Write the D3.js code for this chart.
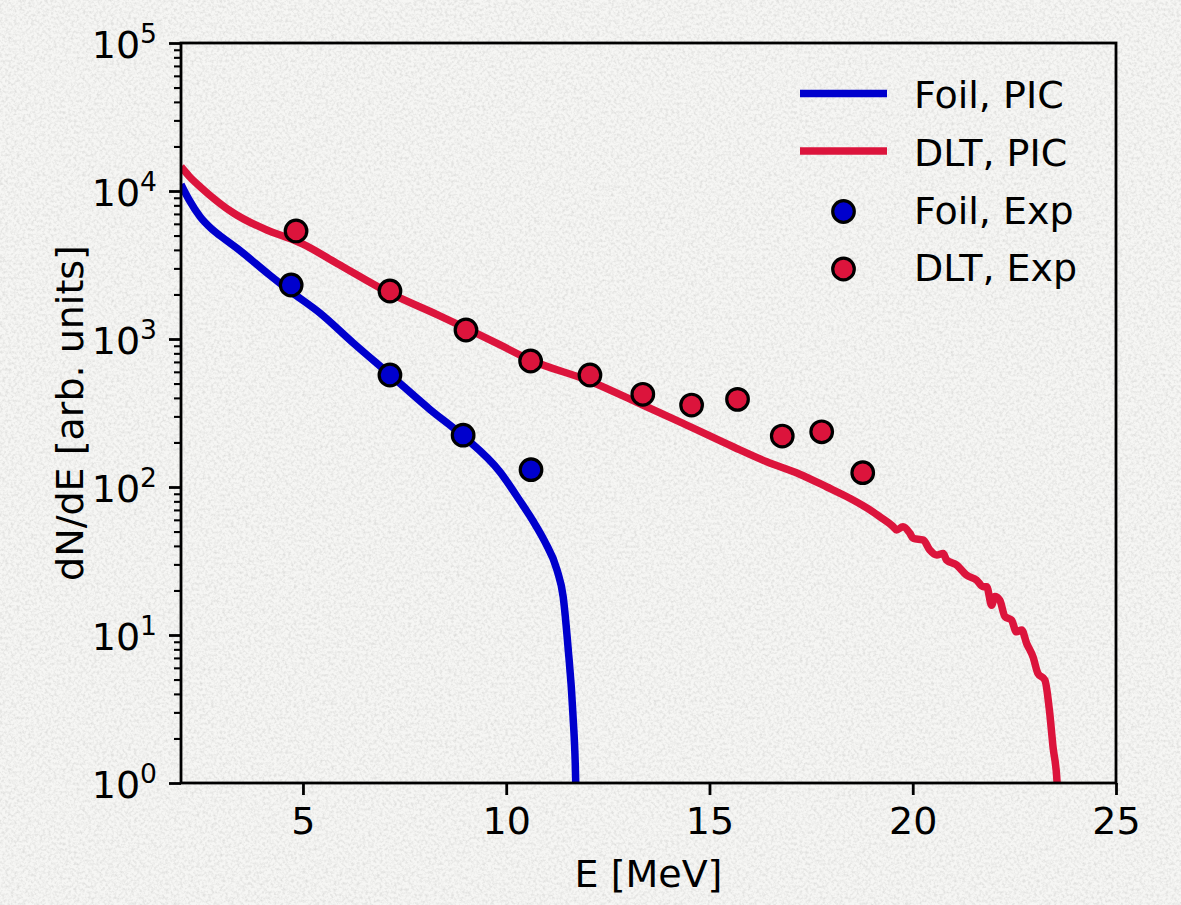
<!DOCTYPE html>
<html>
<head>
<meta charset="utf-8">
<script src="https://cdn.jsdelivr.net/npm/d3@7/dist/d3.min.js"></script>
<style>
html,body{margin:0;padding:0;background:#f1f1ef;}
svg{display:block;font-family:"DejaVu Sans",sans-serif;}
</style>
</head>
<body>
<svg id="chart" width="1181" height="905"></svg>
<script>
// ---- data ----
const foilPicE = [2.00, 2.20, 2.47, 2.75, 3.00, 3.37, 4.19, 4.68, 5.42, 6.23, 7.14, 8.12, 8.94, 9.85, 10.34, 10.66, 10.95, 11.25, 11.40, 11.52, 11.64, 11.71, 11.73];
const foilPicN = [11090, 8710, 6700, 5560, 4900, 4120, 2690, 2110, 1496, 944, 575, 335, 221, 126, 80.4, 58.9, 42.7, 27.5, 18.2, 8.3, 2.95, 1.0, 0.5];

const dltPicE = [2.00, 2.20, 2.47, 3.29, 4.11, 4.76, 5.00, 5.84, 7.14, 8.30, 9.03, 9.85, 10.58, 12.06, 13.36, 14.35, 15.58, 16.41, 17.22, 17.89, 18.45, 19.02, 19.19, 19.52, 19.60, 19.76, 19.93, 20.01, 20.26, 20.42, 20.59, 20.75, 20.83, 21.08, 21.32, 21.57, 21.73, 21.82, 21.94, 22.02, 22.14, 22.27, 22.43, 22.55, 22.68, 22.80, 22.96, 23.08, 23.25, 23.37, 23.45, 23.55, 23.60];
const dltPicN = [14590, 12590, 10700, 7100, 5450, 4680, 4370, 3240, 2040, 1462, 1175, 912, 724, 519, 358, 269, 187, 148, 122, 100, 84, 68, 63, 53.9, 51.2, 53.9, 48.7, 45.0, 43.8, 37.5, 34.7, 35.6, 32.1, 29.7, 25.4, 23.5, 21.2, 21.2, 15.9, 18.2, 17.2, 13.3, 12.6, 10.5, 10.8, 8.8, 7.1, 5.5, 4.97, 2.96, 1.76, 1.02, 0.5];

const foilExpE = [4.71, 7.14, 8.94, 10.61];
const foilExpN = [2317, 571, 224, 131];

const dltExpE = [4.83, 7.14, 9.01, 10.60, 12.06, 13.36, 14.56, 15.69, 16.79, 17.76, 18.77];
const dltExpN = [5370, 2110, 1150, 710, 571, 423, 358, 391, 221, 236, 125];

const xTicks = [5, 10, 15, 20, 25];
const yTicks = [1, 10, 100, 1000, 10000, 100000];
const yTickExp = ["0", "1", "2", "3", "4", "5"];
const legendLabels = ["Foil, PIC", "DLT, PIC", "Foil, Exp", "DLT, Exp"];
const xLabel = "E [MeV]";
const yLabel = "dN/dE [arb. units]";

// ---- layout ----
const W = 1181, H = 905;
const L = 181, R = 1116, T = 43, B = 783;
const FS = 38;
const LW = 7.5;
const BLUE = "#0000CD", RED = "#DC143C";

const svg = d3.select("#chart");
const defs = svg.append("defs");

const filt = defs.append("filter").attr("id", "paper")
  .attr("x", 0).attr("y", 0).attr("width", "100%").attr("height", "100%");
filt.append("feTurbulence").attr("type", "fractalNoise").attr("baseFrequency", 0.35)
  .attr("numOctaves", 3).attr("seed", 7);
filt.append("feColorMatrix").attr("type", "matrix")
  .attr("values", "0 0 0 0 0.45  0 0 0 0 0.45  0 0 0 0 0.44  0.75 0 0 0 -0.3");

defs.append("clipPath").attr("id", "plotclip").append("rect")
  .attr("x", L).attr("y", T).attr("width", R - L).attr("height", B - T);

svg.append("rect").attr("width", W).attr("height", H).attr("fill", "#f6f6f4");
svg.append("rect").attr("width", W).attr("height", H).attr("filter", "url(#paper)");

const x = d3.scaleLinear().domain([2, 25]).range([L, R]);
const y = d3.scaleLog().domain([1, 1e5]).range([B, T]);

// minor y ticks
const minor = [];
for (let k = 0; k < 5; k++) for (let m = 2; m <= 9; m++) minor.push(m * Math.pow(10, k));

const gyMinor = svg.append("g").attr("transform", `translate(${L},0)`)
  .call(d3.axisLeft(y).tickValues(minor).tickSize(7).tickFormat(""));
gyMinor.select(".domain").remove();
gyMinor.selectAll("line").attr("stroke", "#000").attr("stroke-width", 2.1);

const gy = svg.append("g").attr("transform", `translate(${L},0)`)
  .call(d3.axisLeft(y).tickValues(yTicks).tickSize(12).tickPadding(12).tickFormat(""));
gy.select(".domain").remove();
gy.selectAll("line").attr("stroke", "#000").attr("stroke-width", 2.8);
gy.selectAll(".tick text").each(function(d, i) {
  const t = d3.select(this);
  t.attr("dy", "0.37em").attr("font-size", FS).attr("fill", "#000").attr("font-family", "DejaVu Sans");
  t.append("tspan").text("10");
  t.append("tspan").attr("dy", -15).attr("font-size", FS * 0.7).text(yTickExp[i]);
});

const gx = svg.append("g").attr("transform", `translate(0,${B})`)
  .call(d3.axisBottom(x).tickValues(xTicks).tickSize(12).tickPadding(12).tickFormat(d3.format("d")));
gx.select(".domain").remove();
gx.selectAll("line").attr("stroke", "#000").attr("stroke-width", 2.8);
gx.selectAll("text").attr("font-size", FS).attr("fill", "#000").attr("font-family", "DejaVu Sans");

// lines
const line = d3.line().x(d => x(d[0])).y(d => y(d[1])).curve(d3.curveMonotoneX);
const plot = svg.append("g").attr("clip-path", "url(#plotclip)");
plot.append("path").datum(d3.zip(foilPicE, foilPicN)).attr("d", line)
  .attr("fill", "none").attr("stroke", BLUE).attr("stroke-width", LW).attr("stroke-linejoin", "round");
plot.append("path").datum(d3.zip(dltPicE, dltPicN)).attr("d", line)
  .attr("fill", "none").attr("stroke", RED).attr("stroke-width", LW).attr("stroke-linejoin", "round");

// points
svg.append("g").selectAll("circle").data(d3.zip(foilExpE, foilExpN)).join("circle")
  .attr("cx", d => x(d[0])).attr("cy", d => y(d[1])).attr("r", 10.8)
  .attr("fill", BLUE).attr("stroke", "#000").attr("stroke-width", 3.2);
svg.append("g").selectAll("circle").data(d3.zip(dltExpE, dltExpN)).join("circle")
  .attr("cx", d => x(d[0])).attr("cy", d => y(d[1])).attr("r", 10.8)
  .attr("fill", RED).attr("stroke", "#000").attr("stroke-width", 3.2);

// frame
svg.append("rect").attr("x", L).attr("y", T).attr("width", R - L).attr("height", B - T)
  .attr("fill", "none").attr("stroke", "#000").attr("stroke-width", 2.8);

// axis labels
svg.append("text").attr("x", (L + R) / 2).attr("y", 887).attr("text-anchor", "middle")
  .attr("font-size", FS).attr("fill", "#000").text(xLabel);
svg.append("text").attr("transform", `translate(83,${(T + B) / 2}) rotate(-90)`)
  .attr("text-anchor", "middle").attr("font-size", FS).attr("fill", "#000").text(yLabel);

// legend
const lg = svg.append("g");
const rowY = [93.5, 151, 211.5, 269];
const baseY = [108.3, 165.5, 223.5, 280.5];
lg.append("line").attr("x1", 800).attr("x2", 887).attr("y1", rowY[0]).attr("y2", rowY[0])
  .attr("stroke", BLUE).attr("stroke-width", LW);
lg.append("line").attr("x1", 800).attr("x2", 887).attr("y1", rowY[1]).attr("y2", rowY[1])
  .attr("stroke", RED).attr("stroke-width", LW);
lg.append("circle").attr("cx", 843.5).attr("cy", rowY[2]).attr("r", 10.8)
  .attr("fill", BLUE).attr("stroke", "#000").attr("stroke-width", 3.2);
lg.append("circle").attr("cx", 843.5).attr("cy", rowY[3]).attr("r", 10.8)
  .attr("fill", RED).attr("stroke", "#000").attr("stroke-width", 3.2);
lg.selectAll("text").data(legendLabels).join("text")
  .attr("x", 914).attr("y", (d, i) => baseY[i]).attr("font-size", FS).attr("fill", "#000").text(d => d);
</script>
</body>
</html>
